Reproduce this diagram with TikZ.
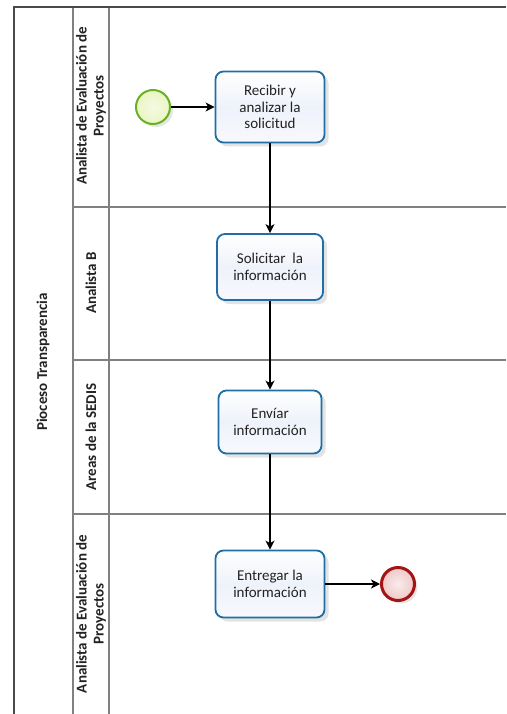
\documentclass[tikz,border=0pt]{standalone}
\usepackage{fontspec}
\setmainfont{Carlito}
\usetikzlibrary{shadows,arrows.meta,shapes.geometric}
\definecolor{taskblue}{HTML}{1F6FA6}
\definecolor{taskfill}{HTML}{EEF2FA}
\definecolor{startgreen}{HTML}{6AB023}
\definecolor{startfill}{HTML}{EAF5C4}
\definecolor{endred}{HTML}{A31515}
\definecolor{endfill}{HTML}{F0C8C8}
\definecolor{poolgray}{HTML}{4A4A4A}
\definecolor{lanegray}{HTML}{808080}
\definecolor{txt}{HTML}{222222}
\tikzset{
  poolline/.style={draw=poolgray, line width=1.8pt},
  laneline/.style={draw=lanegray, line width=1.1pt},
  task/.style={draw=taskblue, line width=1.8pt, rounded corners=8pt,
    top color=white, bottom color=taskfill!80!blue!10, middle color=taskfill,
    align=center, inner sep=2pt, text=txt,
    font=\fontsize{15}{16.5}\selectfont,
    drop shadow={shadow xshift=4pt, shadow yshift=-4pt, opacity=0.22, fill=gray}},
  startev/.style={circle, draw=startgreen, line width=2pt, minimum size=34pt,
    inner color=startfill!50!white, outer color=startfill,
    drop shadow={shadow xshift=3pt, shadow yshift=-3pt, opacity=0.2, fill=gray}},
  endev/.style={circle, draw=endred, line width=3pt, minimum size=33pt,
    inner color=endfill!35!white, outer color=endfill,
    drop shadow={shadow xshift=3pt, shadow yshift=-3pt, opacity=0.2, fill=gray}},
  lanelabel/.style={rotate=90, align=center, text=txt, font=\bfseries\fontsize{15}{17}\selectfont},
  poollabel/.style={rotate=90, align=center, text=txt, font=\bfseries\fontsize{15}{17}\selectfont},
  flow/.style={draw=black, line width=1.3pt, -{Stealth[length=9pt,width=9pt,inset=2.5pt]}}
}
\begin{document}
\begin{tikzpicture}[x=1pt,y=-1pt]
\useasboundingbox[fill=white] (0,0) rectangle (506,714);
% pool and lanes
\draw[laneline] (73,207) -- (506,207);
\draw[laneline] (73,360) -- (506,360);
\draw[laneline] (73,514) -- (506,514);
\draw[laneline] (73,7) -- (73,714);
\draw[laneline] (109,7) -- (109,714);
\draw[poolline] (506,7) -- (14,7) -- (14,714);
% labels
\node[poollabel] (pool) at (43,362) {Pioceso Transparencia};
\node[lanelabel] (l1) at (91,106) {Analista de Evaluación de\\Proyectos};
\node[lanelabel] (l2) at (91,283) {Analista B};
\node[lanelabel] (l3) at (91,437) {Areas de la SEDIS};
\node[lanelabel] (l4) at (91,614) {Analista de Evaluación de\\Proyectos};
% events and tasks
\node[startev] (s) at (153,107) {};
\node[task, minimum width=109pt, minimum height=71pt] (t1) at (270,107) {Recibir y\\analizar la\\solicitud};
\node[task, minimum width=106pt, minimum height=66pt] (t2) at (270,267) {Solicitar\ \ la\\información};
\node[task, minimum width=103pt, minimum height=63pt] (t3) at (270,422) {Envíar\\información};
\node[task, minimum width=109pt, minimum height=67pt] (t4) at (270,584) {Entregar la\\información};
\node[endev] (e) at (398,584) {};
% flows
\draw[flow] (s) -- (t1);
\draw[flow] (t1) -- (t2);
\draw[flow] (t2) -- (t3);
\draw[flow] (t3) -- (t4);
\draw[flow] (t4) -- (e);
\end{tikzpicture}
\end{document}
